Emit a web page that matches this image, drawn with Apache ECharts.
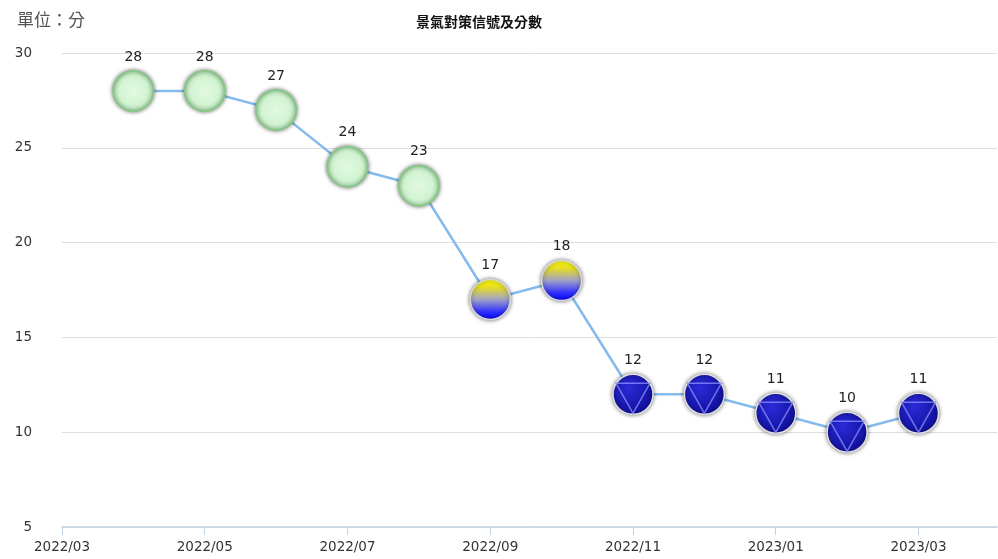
<!DOCTYPE html>
<html><head><meta charset="utf-8">
<script src="https://cdn.jsdelivr.net/npm/echarts@6/dist/echarts.min.js"></script>
<style>html,body{margin:0;padding:0;background:#fff}#c{width:998px;height:559px}</style>
</head><body><div id="c"></div>
<script>
const months = ['2022/03','2022/04','2022/05','2022/06','2022/07','2022/08','2022/09','2022/10','2022/11','2022/12','2023/01','2023/02','2023/03','2023/04'];
const dataMonths = ['2022/04','2022/05','2022/06','2022/07','2022/08','2022/09','2022/10','2022/11','2022/12','2023/01','2023/02','2023/03'];
const scores = [28,28,27,24,23,17,18,12,12,11,10,11];
const signals = ['green','green','green','green','green','yb','yb','blue','blue','blue','blue','blue'];
const yTicks = [5,10,15,20,25,30];

const styles = {
  green: {color:{type:'radial',x:0.5,y:0.5,r:0.5,colorStops:[{offset:0,color:'#e2f9e2'},{offset:0.85,color:'#cdf3cd'},{offset:1,color:'#c0eec0'}]},
          borderColor:'#86c986',borderWidth:2,shadowBlur:4,shadowColor:'rgba(0,0,0,0.5)'},
  yb: {color:{type:'linear',x:0,y:0,x2:0,y2:1,colorStops:[{offset:0,color:'#ffff00'},{offset:0.2,color:'#e8e020'},{offset:0.5,color:'#a0a0c8'},{offset:0.8,color:'#3030ff'},{offset:1,color:'#0000ff'}]},
          borderColor:'#d8d8d8',borderWidth:1.5,shadowBlur:4,shadowColor:'rgba(0,0,0,0.5)'},
  blue: {color:{type:'radial',x:0.4,y:0.35,r:0.65,colorStops:[{offset:0,color:'#2a2ad8'},{offset:1,color:'#10109a'}]},
          borderColor:'#e0e0e0',borderWidth:1.5,shadowBlur:4,shadowColor:'rgba(0,0,0,0.5)'}
};

const pts = dataMonths.map((m,i)=>({value:[months.indexOf(m), scores[i]], itemStyle: styles[signals[i]]}));
const triPts = dataMonths.map((m,i)=>signals[i]==='blue' ? [months.indexOf(m), scores[i]] : null).filter(Boolean);

const chart = echarts.init(document.getElementById('c'));
chart.setOption({
  animation:false,
  title:[
    {text:'景氣對策信號及分數',left:474,top:10,textAlign:'center',textStyle:{fontSize:14,fontWeight:'bold',color:'#111',fontFamily:'Noto Sans CJK TC'}},
    {text:'單位：分',left:12,top:6,textStyle:{fontSize:17,fontWeight:'normal',color:'#555',fontFamily:'Noto Sans CJK TC'}}
  ],
  grid:{left:62,right:1,top:53,bottom:32,containLabel:false},
  xAxis:{type:'value',min:0,max:13.1,interval:2,
    axisLine:{show:true,lineStyle:{color:'#c3d2e3',width:1.5}},
    axisTick:{show:true,length:8,lineStyle:{color:'#c3d2e3'}},
    splitLine:{show:false},
    axisLabel:{color:'#333',fontSize:13.5,margin:13,fontFamily:'DejaVu Sans',formatter:v=>months[v]||'' ,showMaxLabel:false}
  },
  yAxis:{type:'value',min:yTicks[0],max:yTicks[yTicks.length-1],interval:5,
    axisLine:{show:false},axisTick:{show:false},
    splitLine:{lineStyle:{color:'#dedede',width:1}},
    axisLabel:{color:'#333',fontSize:13.5,margin:30,fontFamily:'DejaVu Sans'}
  },
  series:[
    {type:'line',data:pts,symbol:'circle',symbolSize:40,
     lineStyle:{color:'#85bbec',width:2.5},
     label:{show:true,position:'top',distance:6,color:'#222',fontSize:14,fontFamily:'DejaVu Sans',formatter:p=>p.value[1]},
     z:2},
    {type:'scatter',data:triPts,symbol:'path://M0,0 L35,0 L17.5,30 Z',symbolSize:[34,30],symbolOffset:[0,4],
     itemStyle:{color:'rgba(0,0,0,0)',borderColor:'#8a8aff',borderWidth:1.5},
     silent:true,z:3}
  ]
});
</script></body></html>
